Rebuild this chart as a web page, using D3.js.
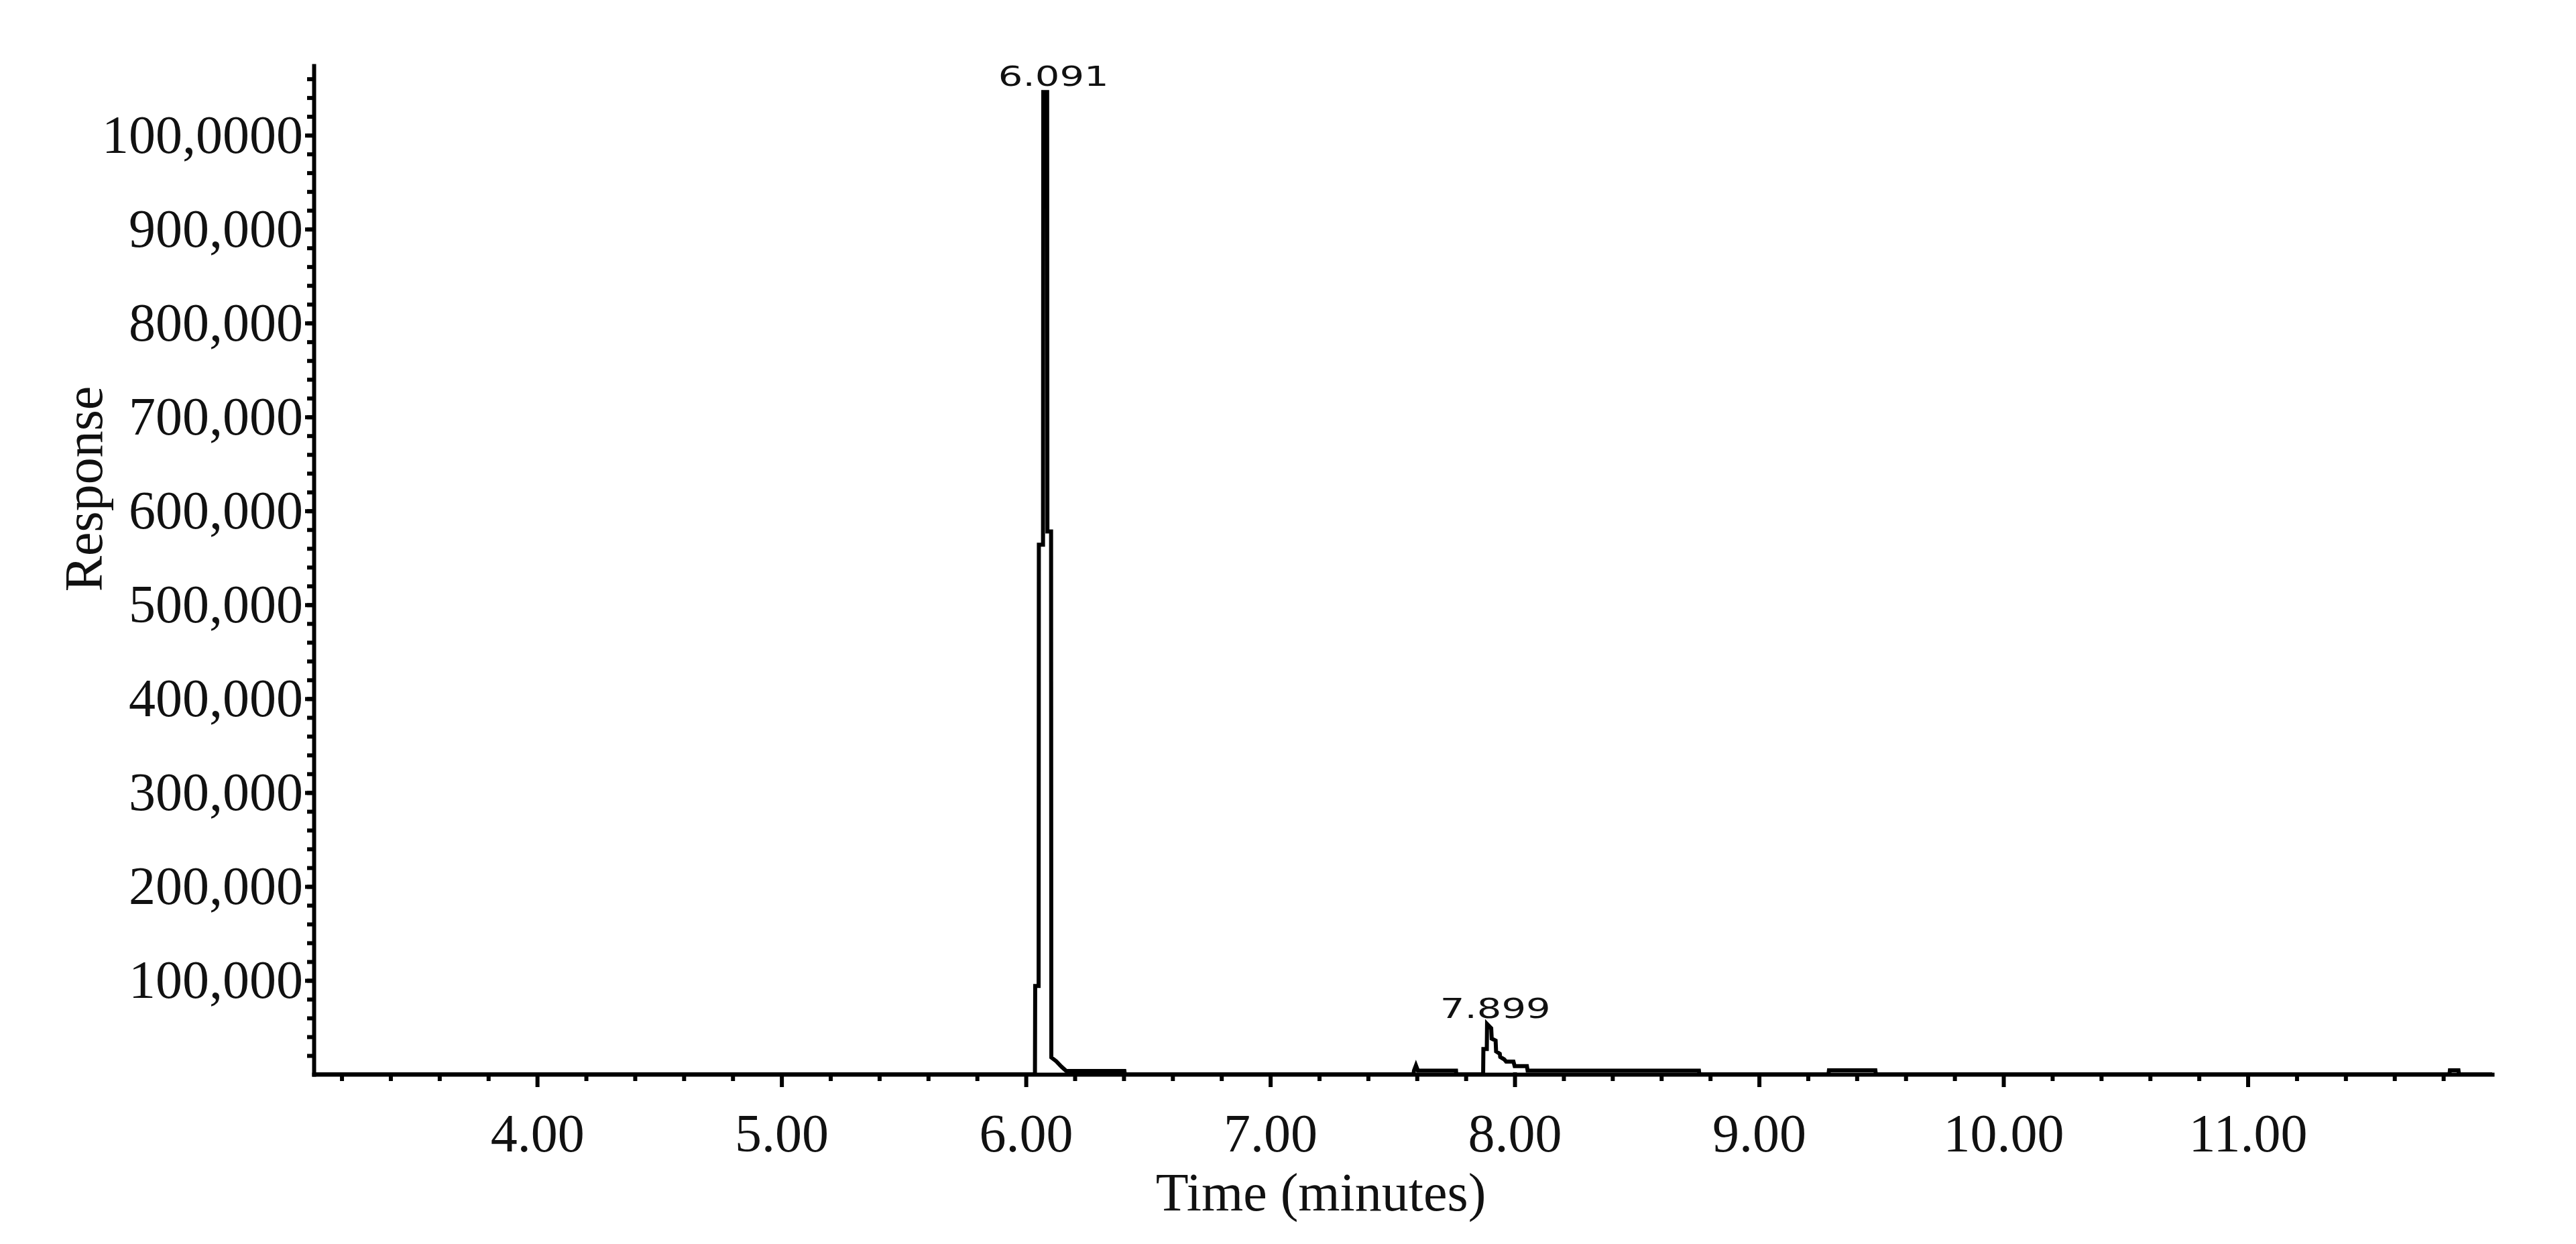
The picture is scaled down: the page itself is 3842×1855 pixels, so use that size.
<!DOCTYPE html>
<html>
<head>
<meta charset="utf-8">
<script src="https://cdn.jsdelivr.net/npm/d3@7"></script>
<style>
  body { margin: 0; background: #ffffff; }
</style>
</head>
<body>
<div id="chart"></div>
<script>
// retention time (minutes) of each point of the trace
const times = [
    3.086, 6.030, 6.037, 6.038, 6.052, 6.053, 6.070, 6.071, 6.087, 6.088, 6.103, 6.104,
    6.124, 6.146, 6.165, 6.403, 6.405,
    7.586, 7.588, 7.596, 7.604, 7.760, 7.761,
    7.862, 7.871, 7.872, 7.886, 7.887, 7.904, 7.906, 7.922, 7.924, 7.939, 7.941, 7.957,
    7.965, 7.995, 8.000, 8.050, 8.053, 8.754, 8.756,
    9.284, 9.286, 9.476, 9.478,
    11.825, 11.827, 11.862, 11.864,
    12.0
];

// detector response at each time above
const responses = [
    0, 0, 0, 94000, 94000, 564000, 564000, 1046000, 1046000, 578000, 578000, 18000,
    14000, 8000, 3600, 3600, 0,
    0, 4000, 9500, 4000, 4000, 0,
    0, 0, 27000, 27000, 53600, 49000, 38000, 36000, 24500, 22000, 18500, 16000,
    13600, 13600, 8800, 8800, 4000, 4000, 0,
    0, 4300, 4300, 0,
    0, 4300, 4300, 0,
    0
];

// labelled peaks
const peakTimes = [6.091, 7.899];
const peakResponses = [1046000, 53600];
const peakLabels = ["6.091", "7.899"];

// axis ticks
const xTicks = [4, 5, 6, 7, 8, 9, 10, 11];
const xTickLabels = ["4.00", "5.00", "6.00", "7.00", "8.00", "9.00", "10.00", "11.00"];
const yTicks = [100000, 200000, 300000, 400000, 500000, 600000, 700000, 800000, 900000, 1000000];
const yTickLabels = ["100,000", "200,000", "300,000", "400,000", "500,000", "600,000", "700,000", "800,000", "900,000", "100,0000"];

const width = 3842,
    height = 1855;
const margin = { top: 98, right: 125, bottom: 253, left: 468 };

const serif = "'Liberation Serif', 'Times New Roman', serif";

// scales
const xScale = d3.scaleLinear()
    .domain([3.086, 12.0])
    .range([margin.left, width - margin.right]);

const yScale = d3.scaleLinear()
    .domain([0, 1074000])
    .range([height - margin.bottom, margin.top]);

const svg = d3.select("#chart").append("svg")
    .attr("width", width)
    .attr("height", height)
    .style("background", "#ffffff");

// minor ticks every 0.2 min and every 20,000
const xMinor = d3.range(16, 60).filter(i => i % 5 !== 0).map(i => i / 5);
const yMinor = d3.range(1, 54).map(i => i * 20000);

svg.append("g")
    .attr("transform", `translate(0, ${yScale(0)})`)
    .call(d3.axisBottom(xScale).tickValues(xMinor).tickSize(10).tickFormat(""))
    .call(g => g.select(".domain").remove())
    .selectAll("line").attr("stroke", "#000").attr("stroke-width", 6);

svg.append("g")
    .attr("transform", `translate(${xScale.range()[0]}, 0)`)
    .call(d3.axisLeft(yScale).tickValues(yMinor).tickSize(10).tickFormat(""))
    .call(g => g.select(".domain").remove())
    .selectAll("line").attr("stroke", "#000").attr("stroke-width", 6);

// x-axis
const xAxis = svg.append("g")
    .attr("transform", `translate(0, ${yScale(0)})`)
    .call(d3.axisBottom(xScale)
        .tickValues(xTicks)
        .tickSizeInner(16)
        .tickSizeOuter(0)
        .tickFormat((d, i) => xTickLabels[i]));

xAxis.selectAll("line, path")
    .attr("stroke", "#000")
    .attr("stroke-width", 6)
    .attr("stroke-linecap", "square");

xAxis.selectAll("text")
    .attr("y", 115)
    .attr("dy", null)
    .style("font-family", serif)
    .style("font-size", "80px")
    .style("fill", "#111");

// y-axis
const yAxis = svg.append("g")
    .attr("transform", `translate(${xScale.range()[0]}, 0)`)
    .call(d3.axisLeft(yScale)
        .tickValues(yTicks)
        .tickSizeInner(10)
        .tickSizeOuter(0)
        .tickPadding(6)
        .tickFormat((d, i) => yTickLabels[i]));

yAxis.selectAll("line, path")
    .attr("stroke", "#000")
    .attr("stroke-width", 6)
    .attr("stroke-linecap", "square");

yAxis.selectAll("text")
    .style("font-family", serif)
    .style("font-size", "80px")
    .style("fill", "#111");

// axis titles
svg.append("text")
    .attr("x", 1970)
    .attr("y", 1805)
    .attr("text-anchor", "middle")
    .style("font-family", serif)
    .style("font-size", "80px")
    .style("fill", "#111")
    .text("Time (minutes)");

svg.append("text")
    .attr("transform", "translate(152, 729) rotate(-90)")
    .attr("text-anchor", "middle")
    .style("font-family", serif)
    .style("font-size", "80px")
    .style("fill", "#111")
    .text("Response");

// chromatogram trace
const line = d3.line()
    .x((d, i) => xScale(times[i]))
    .y((d, i) => yScale(responses[i]));

svg.append("path")
    .datum(responses)
    .attr("d", line)
    .attr("fill", "none")
    .attr("stroke", "#000")
    .attr("stroke-width", 6)
    .attr("stroke-linejoin", "miter");

// peak retention time labels
svg.selectAll(".peak-label")
    .data(peakLabels)
    .enter().append("text")
    .attr("class", "peak-label")
    .attr("x", (d, i) => xScale(peakTimes[i]) + 8)
    .attr("y", (d, i) => yScale(peakResponses[i]) - 9)
    .attr("text-anchor", "middle")
    .attr("textLength", 165)
    .attr("lengthAdjust", "spacingAndGlyphs")
    .style("font-family", "'DejaVu Sans', sans-serif")
    .style("font-size", "41px")
    .style("fill", "#111")
    .text(d => d);
</script>
</body>
</html>
